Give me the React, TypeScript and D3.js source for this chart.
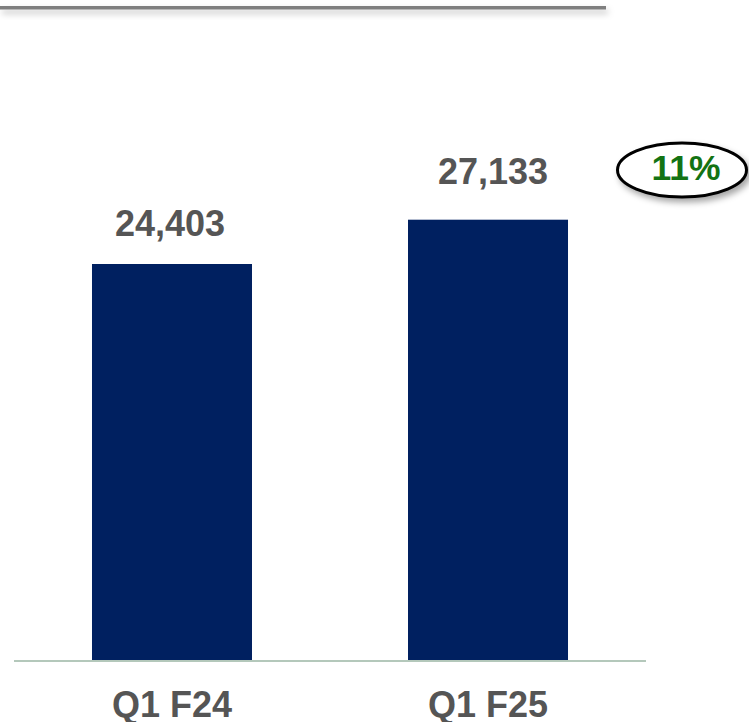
import React from "react";
import * as d3 from "d3";

const categories: string[] = ["Q1 F24", "Q1 F25"];
const values: number[] = [24403, 27133];
const valueLabels: string[] = ["24,403", "27,133"];
const growthLabel: string = "11%";

const W = 749;
const H = 722;
const BASE_Y = 660;
const labelOffsets = [28, 36];

export default function App() {
  const x = d3
    .scaleBand<string>()
    .domain(categories)
    .range([14, 646])
    .paddingInner(0.4937)
    .paddingOuter(0.2468);
  const y = d3
    .scaleLinear()
    .domain([0, 30000])
    .range([BASE_Y, BASE_Y - 30000 * (396 / 24403)]);

  const font = "'Liberation Sans', Arial, Helvetica, sans-serif";

  return (
    <svg
      width={W}
      height={H}
      style={{ position: "absolute", left: 0, top: 0, background: "#fff" }}
    >
      <defs>
        <filter id="lineShadow" x="-5%" y="-200%" width="110%" height="600%">
          <feDropShadow dx="2" dy="4" stdDeviation="3" floodColor="#000" floodOpacity="0.25" />
        </filter>
        <filter id="badgeShadow" x="-20%" y="-30%" width="140%" height="170%">
          <feDropShadow dx="3" dy="4" stdDeviation="3" floodColor="#000" floodOpacity="0.35" />
        </filter>
      </defs>

      {/* top rule */}
      <rect x={0} y={6} width={606} height={3.5} fill="#7f7f7f" filter="url(#lineShadow)" />

      {/* bars */}
      {categories.map((c, i) => (
        <rect
          key={c}
          x={x(c)}
          y={y(values[i])}
          width={x.bandwidth()}
          height={BASE_Y - y(values[i])}
          fill="#002060"
        />
      ))}

      {/* baseline */}
      <line x1={14} x2={646} y1={BASE_Y + 1} y2={BASE_Y + 1} stroke="#b4c8bb" strokeWidth={2} />

      {/* value labels */}
      {categories.map((c, i) => (
        <text
          key={c + "v"}
          x={(x(c) as number) + x.bandwidth() / 2 + (i === 0 ? -2 : 5)}
          y={y(values[i]) - labelOffsets[i]}
          textAnchor="middle"
          fontFamily={font}
          fontWeight="bold"
          fontSize={36}
          fill="#555555"
        >
          {valueLabels[i]}
        </text>
      ))}

      {/* category labels */}
      {categories.map((c) => (
        <text
          key={c + "c"}
          x={(x(c) as number) + x.bandwidth() / 2}
          y={717}
          textAnchor="middle"
          fontFamily={font}
          fontWeight="bold"
          fontSize={36}
          fill="#555555"
        >
          {c}
        </text>
      ))}

      {/* growth badge */}
      <ellipse
        cx={682}
        cy={170}
        rx={64.5}
        ry={27}
        fill="#ffffff"
        stroke="#000000"
        strokeWidth={3}
        filter="url(#badgeShadow)"
      />
      <text
        x={686}
        y={180}
        textAnchor="middle"
        fontFamily={font}
        fontWeight="bold"
        fontSize={35}
        fill="#137313"
        textLength={69}
        lengthAdjust="spacingAndGlyphs"
      >
        {growthLabel}
      </text>
    </svg>
  );
}
